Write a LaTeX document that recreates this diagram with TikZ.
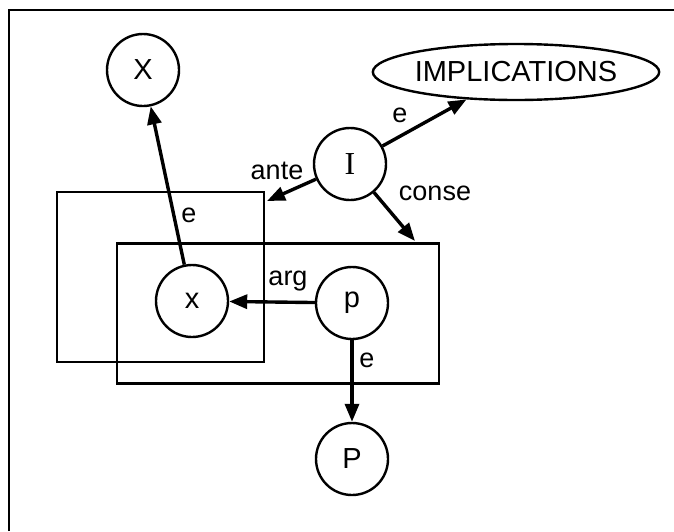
\documentclass[tikz,border=0pt]{standalone}
\usepackage{fontspec}
\setmainfont{Liberation Sans}
\newfontfamily\serifI{Liberation Serif}
\usetikzlibrary{arrows.meta,shapes.geometric}
\begin{document}
\begin{tikzpicture}[x=1pt,y=-1pt,
  circ/.style={draw,circle,line width=2.4pt,minimum size=72pt,inner sep=0pt,font=\fontsize{29}{33}\selectfont},
  oval/.style={draw,ellipse,line width=2.4pt,minimum width=248pt,minimum height=56pt,inner sep=0pt,font=\fontsize{29}{33}\selectfont},
  boxst/.style={draw,rectangle,line width=2.4pt,inner sep=0pt},
  link/.style={line width=3.4pt,-{Triangle[length=18pt,width=14pt]}},
  lab/.style={font=\fontsize{27}{31}\selectfont,inner sep=0pt}]
\useasboundingbox (0,0) rectangle (674,531);
\draw[line width=2.8pt] (9,531) -- (9,10) -- (674,10);
% boxes
\node[boxst,minimum width=207pt,minimum height=170pt] (b1) at (160.5,277) {};
\node[boxst,minimum width=322pt,minimum height=140pt] (b2) at (278,313.5) {};
% nodes
\node[circ] (X) at (143,70) {X};
\node[oval] (IMP) at (516,72) {IMPLICATIONS};
\node[circ,font=\fontsize{32}{36}\serifI] (I) at (350,164) {I};
\node[circ] (x) at (192,301) {x};
\node[circ] (p) at (352,303) {p};
\node[circ] (P) at (352,459) {P};
\coordinate (anteEnd) at (267,201);
\coordinate (conseEnd) at (415,241);
% connectors
\draw[link] (x) -- (X);
\draw[link] (I) -- (IMP);
\draw[link] (I) -- (anteEnd);
\draw[link] (I) -- (conseEnd);
\draw[link] (p) -- (x);
\draw[link] (p) -- (P);
% labels
\node[lab] (le1) at (189,215) {e};
\node[lab] (le2) at (400,115) {e};
\node[lab] (lante) at (277,171) {ante};
\node[lab] (lconse) at (435,193) {conse};
\node[lab] (larg) at (288,281) {arg};
\node[lab] (le3) at (367,360) {e};
\end{tikzpicture}
\end{document}
